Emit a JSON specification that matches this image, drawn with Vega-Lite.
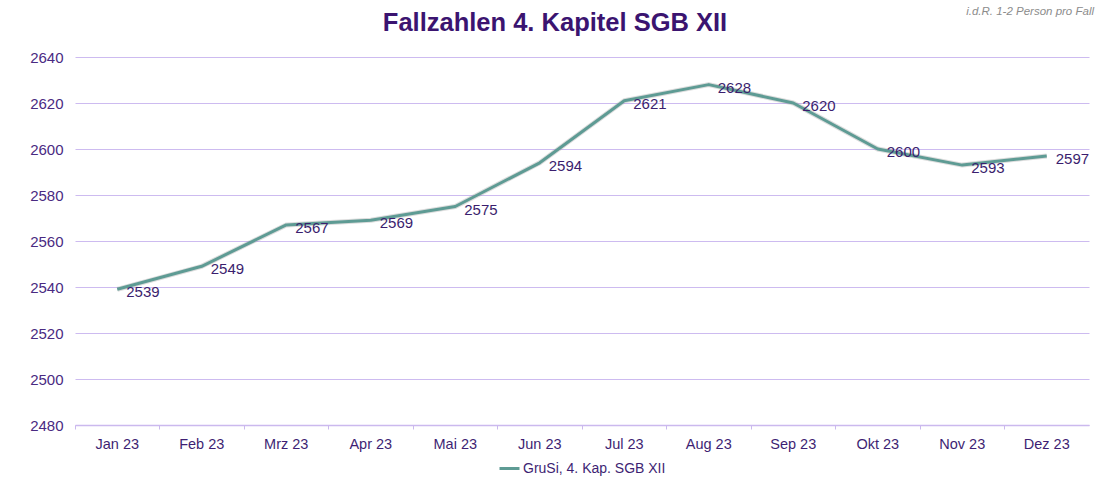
{
  "$schema": "https://vega.github.io/schema/vega-lite/v6.json",
  "autosize": "none",
  "width": 1014,
  "height": 368,
  "padding": {"left": 75, "top": 57, "right": 16, "bottom": 58},
  "background": "white",
  "title": {
    "text": "Fallzahlen 4. Kapitel SGB XII",
    "fontSize": 25.5,
    "font": "Liberation Sans",
    "fontWeight": "bold",
    "color": "#3B1470",
    "anchor": "middle",
    "baseline": "middle",
    "dx": -27,
    "dy": 27,
    "offset": -15
  },
  "data": {
    "values": [
      {"monat": "Jan 23", "wert": 2539, "serie": "GruSi, 4. Kap. SGB XII"},
      {"monat": "Feb 23", "wert": 2549, "serie": "GruSi, 4. Kap. SGB XII"},
      {"monat": "Mrz 23", "wert": 2567, "serie": "GruSi, 4. Kap. SGB XII"},
      {"monat": "Apr 23", "wert": 2569, "serie": "GruSi, 4. Kap. SGB XII"},
      {"monat": "Mai 23", "wert": 2575, "serie": "GruSi, 4. Kap. SGB XII"},
      {"monat": "Jun 23", "wert": 2594, "serie": "GruSi, 4. Kap. SGB XII"},
      {"monat": "Jul 23", "wert": 2621, "serie": "GruSi, 4. Kap. SGB XII"},
      {"monat": "Aug 23", "wert": 2628, "serie": "GruSi, 4. Kap. SGB XII"},
      {"monat": "Sep 23", "wert": 2620, "serie": "GruSi, 4. Kap. SGB XII"},
      {"monat": "Okt 23", "wert": 2600, "serie": "GruSi, 4. Kap. SGB XII"},
      {"monat": "Nov 23", "wert": 2593, "serie": "GruSi, 4. Kap. SGB XII"},
      {"monat": "Dez 23", "wert": 2597, "serie": "GruSi, 4. Kap. SGB XII"}
    ]
  },
  "encoding": {
    "x": {
      "field": "monat",
      "type": "ordinal",
      "sort": null,
      "scale": {"type": "band", "paddingInner": 0, "paddingOuter": 0},
      "axis": {
        "title": null,
        "labelAngle": 0,
        "labelFont": "Liberation Sans",
        "labelFontSize": 14.5,
        "labelColor": "#3E1F73",
        "labelPadding": 8,
        "domainColor": "#CBB9EE",
        "domainWidth": 1.5,
        "tickColor": "#CBB9EE",
        "tickSize": 4,
        "bandPosition": 0,
        "grid": false
      }
    },
    "y": {
      "field": "wert",
      "type": "quantitative",
      "scale": {"domain": [2480, 2640], "zero": false, "nice": false},
      "axis": {
        "title": null,
        "format": "d",
        "values": [2480, 2500, 2520, 2540, 2560, 2580, 2600, 2620, 2640],
        "labelFont": "Liberation Sans",
        "labelFontSize": 15,
        "labelColor": "#4A2A82",
        "labelPadding": 12,
        "domain": false,
        "ticks": false,
        "grid": true,
        "gridColor": "#CDBBF0",
        "gridOpacity": 1,
        "gridWidth": 1
      }
    }
  },
  "layer": [
    {
      "mark": {"type": "line", "stroke": "#9A9A9A", "strokeWidth": 5, "opacity": 0.35, "strokeJoin": "round"},
      "encoding": {}
    },
    {
      "mark": {"type": "line", "strokeWidth": 3, "strokeJoin": "round"},
      "encoding": {
        "color": {
          "field": "serie",
          "type": "nominal",
          "scale": {"range": ["#5E9B94"]},
          "legend": {
            "title": null,
            "orient": "bottom",
            "direction": "horizontal",
            "symbolType": "stroke",
            "symbolStrokeWidth": 3,
            "symbolSize": 400,
            "labelFont": "Liberation Sans",
            "labelFontSize": 14,
            "labelColor": "#3E1F73",
            "offset": 6,
            "labelOffset": 2
          }
        }
      }
    },
    {
      "mark": {
        "type": "text",
        "align": "left",
        "baseline": "middle",
        "dx": 9,
        "dy": 3,
        "font": "Liberation Sans",
        "fontSize": 15,
        "color": "#3B1E6E"
      },
      "encoding": {"text": {"field": "wert", "type": "quantitative", "format": "d"}}
    },
    {
      "data": {"values": [{"hinweis": "i.d.R. 1-2 Person pro Fall"}]},
      "mark": {
        "type": "text",
        "align": "right",
        "baseline": "middle",
        "font": "Liberation Sans",
        "fontSize": 11.5,
        "fontStyle": "italic",
        "color": "#8C8C8C"
      },
      "encoding": {
        "text": {"field": "hinweis"},
        "x": {"value": 1019},
        "y": {"value": -45}
      }
    }
  ],
  "config": {
    "view": {"stroke": null},
    "legend": {"layout": {"bottom": {"anchor": "middle"}}}
  }
}
